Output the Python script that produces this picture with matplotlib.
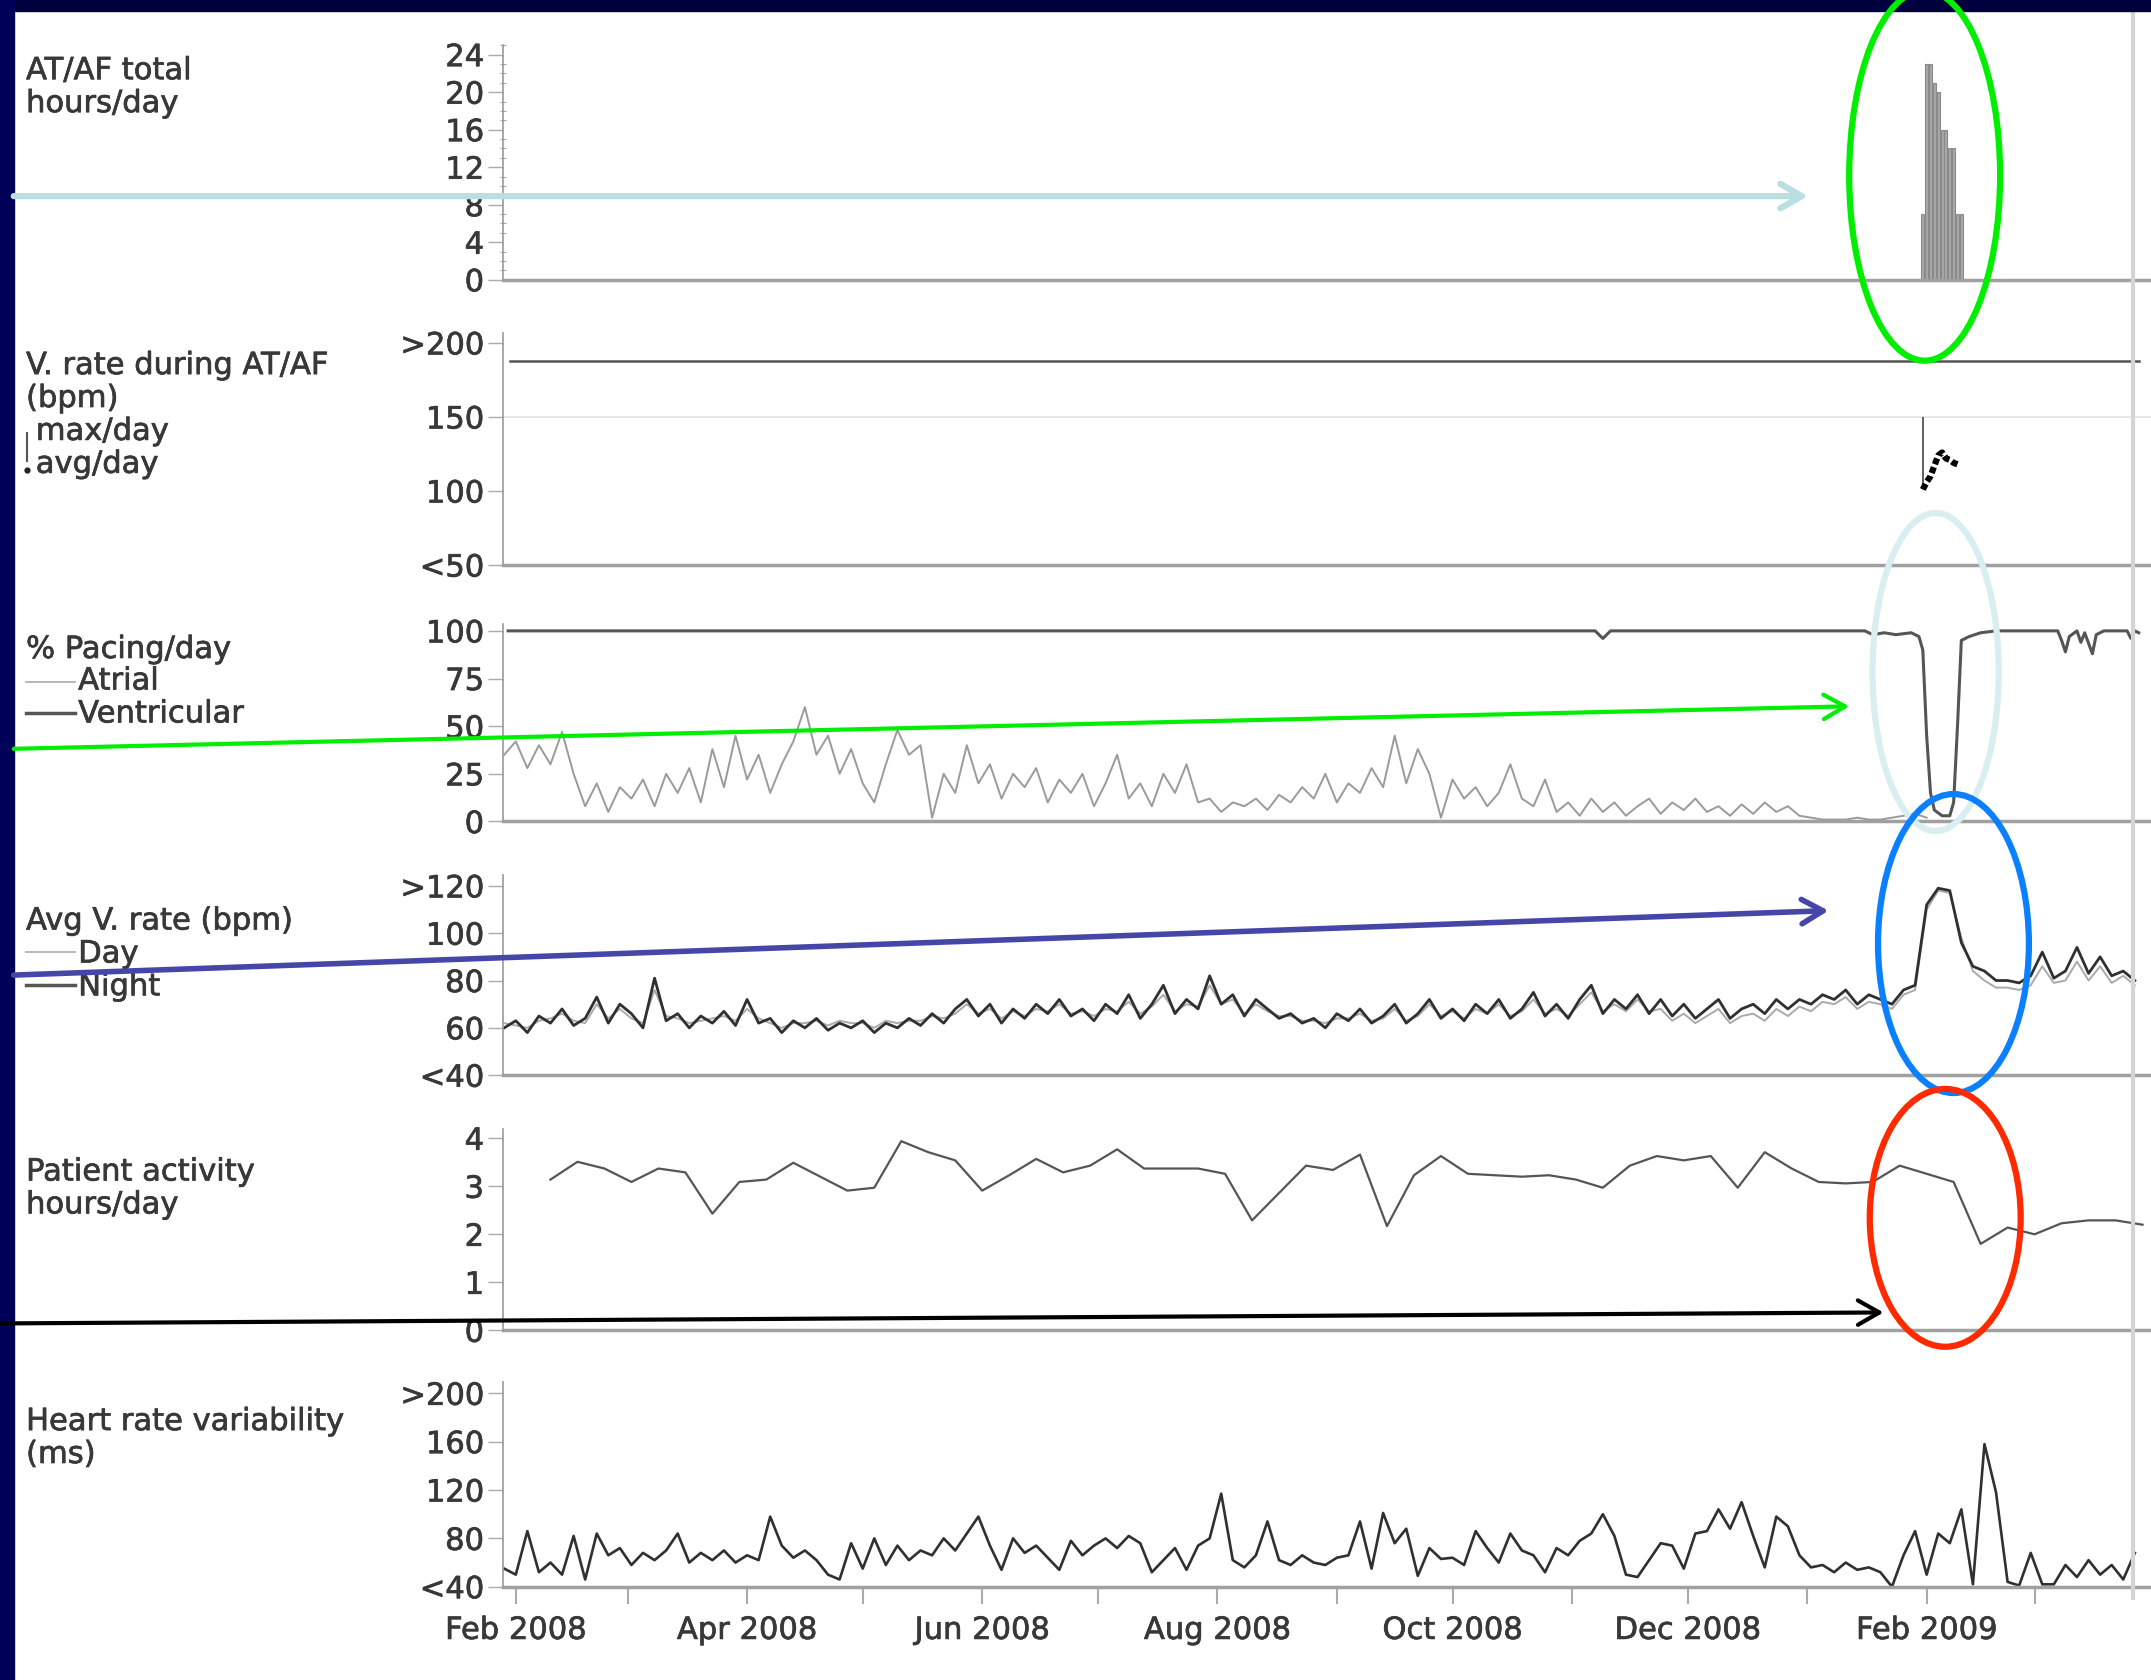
import numpy as np
import matplotlib
matplotlib.use("Agg")
import matplotlib.pyplot as plt
import matplotlib.dates as mdates
import matplotlib.patheffects as pe
from matplotlib.patches import Ellipse, Rectangle, FancyArrowPatch
from matplotlib.lines import Line2D
from matplotlib.ticker import MultipleLocator

plt.rcParams['font.family'] = ['DejaVu Sans']

# -------------------------
# Data (days counted from 1 Feb 2008)
# -------------------------
ATAF_DAYS = [365, 366, 367, 368, 369, 370, 371, 372, 373, 374, 375]
ATAF_HOURS = [7, 23, 23, 21, 20, 16, 16, 14, 14, 7, 7]

VRATE_DAYS = [365, 366, 367, 368, 369, 370, 371, 372, 373, 374]
VRATE_AVG = [101, 106, 110, 117, 124, 126, 122, 121, 119, 118]
VRATE_MAX_DAYS = [365]
VRATE_MAX = [150]
VRATE_REF = 188

ATRIAL_START, ATRIAL_STEP = -3, 3
ATRIAL_PACING = [35, 42, 28, 40, 30, 47, 25, 8, 20, 5,
                 18, 12, 22, 8, 25, 15, 28, 10, 38, 18,
                 45, 22, 35, 15, 30, 42, 60, 35, 45, 25,
                 38, 20, 10, 30, 48, 35, 40, 2, 25, 15,
                 40, 20, 30, 12, 25, 18, 28, 10, 22, 15,
                 25, 8, 20, 35, 12, 20, 8, 25, 15, 30,
                 10, 12, 5, 10, 8, 12, 6, 14, 10, 18,
                 12, 25, 10, 20, 15, 28, 18, 45, 20, 38,
                 25, 2, 22, 12, 18, 8, 15, 30, 12, 8,
                 22, 5, 10, 3, 12, 5, 10, 3, 8, 12,
                 4, 10, 6, 12, 5, 8, 3, 9, 4, 10,
                 5, 8, 3, 2, 1, 1, 1, 2, 1, 1,
                 2, 3, 4, 2]

VENT_DAYS = [-2, 280, 282, 284, 350, 352, 355, 358, 362, 364,
             365, 366, 367, 368, 370, 372, 373, 374, 375, 377,
             380, 384, 400, 401, 402, 403, 405, 406, 407, 409,
             410, 412, 418, 419, 420, 421]
VENT_PACING = [100, 100, 96, 100, 100, 98, 99, 98, 99, 97,
               90, 45, 15, 6, 3, 3, 10, 50, 95, 97,
               99, 100, 100, 95, 89, 97, 100, 94, 99, 88,
               98, 100, 100, 96, 100, 99]

RATE_START, RATE_STEP = -3, 3
RATE_NIGHT = [60, 63, 58, 65, 62, 68, 61, 64, 73, 62,
              70, 66, 60, 81, 63, 66, 60, 65, 62, 67,
              61, 72, 62, 64, 58, 63, 60, 64, 59, 62,
              60, 63, 58, 62, 60, 64, 61, 66, 62, 68,
              72, 65, 70, 62, 68, 64, 70, 66, 72, 65,
              68, 63, 70, 66, 74, 64, 70, 78, 66, 72,
              68, 82, 70, 74, 65, 72, 68, 64, 66, 62,
              64, 60, 66, 63, 68, 62, 65, 70, 62, 66,
              72, 64, 68, 63, 70, 66, 72, 64, 68, 75,
              65, 70, 64, 72, 78, 66, 72, 68, 74, 66,
              72, 65, 70, 64, 68, 72, 64, 68, 70, 66,
              72, 68, 72, 70, 74, 72, 76, 70, 74, 72,
              70, 76, 78, 112, 119, 118, 96, 86, 84, 80,
              80, 79, 82, 92, 81, 84, 94, 83, 90, 82,
              84, 80]
RATE_DAY = [62, 61, 60, 63, 64, 66, 63, 62, 70, 64,
            68, 64, 62, 76, 65, 64, 62, 63, 64, 65,
            63, 68, 64, 62, 60, 62, 62, 63, 61, 63,
            62, 62, 60, 63, 62, 63, 63, 65, 64, 66,
            70, 66, 68, 64, 67, 65, 68, 67, 70, 66,
            67, 65, 68, 67, 71, 66, 69, 74, 67, 70,
            69, 78, 70, 72, 66, 70, 67, 65, 65, 63,
            63, 62, 64, 64, 66, 63, 64, 68, 63, 65,
            70, 65, 67, 64, 68, 66, 70, 65, 67, 72,
            66, 68, 65, 70, 75, 67, 70, 67, 72, 67,
            68, 63, 66, 62, 65, 68, 62, 65, 66, 63,
            68, 65, 69, 67, 71, 70, 73, 68, 71, 70,
            68, 74, 76, 110, 118, 117, 98, 84, 80, 77,
            77, 76, 78, 86, 79, 80, 88, 80, 86, 79,
            82, 78]

ACTIVITY_START, ACTIVITY_STEP = 9, 7
ACTIVITY = [3.14, 3.51, 3.37, 3.09, 3.37, 3.29, 2.43, 3.09, 3.14, 3.49,
            3.20, 2.91, 2.97, 3.94, 3.71, 3.54, 2.91, 3.23, 3.57, 3.29,
            3.43, 3.77, 3.37, 3.37, 3.37, 3.26, 2.29, 2.86, 3.43, 3.34,
            3.66, 2.17, 3.23, 3.63, 3.26, 3.23, 3.20, 3.23, 3.14, 2.97,
            3.43, 3.63, 3.54, 3.63, 2.97, 3.71, 3.37, 3.09, 3.06, 3.09,
            3.43, 3.26, 3.09, 1.80, 2.14, 2.00, 2.23, 2.29, 2.29, 2.20]

HRV_START, HRV_STEP = -3, 3
HRV = [55, 50, 86, 52, 60, 50, 82, 46, 84, 66,
       72, 58, 68, 62, 70, 84, 60, 68, 62, 70,
       60, 66, 62, 98, 74, 64, 70, 62, 50, 46,
       76, 55, 80, 58, 74, 62, 70, 66, 80, 70,
       84, 98, 74, 54, 80, 68, 74, 64, 54, 78,
       66, 74, 80, 72, 82, 76, 52, 62, 72, 54,
       74, 80, 117, 62, 56, 66, 94, 62, 58, 66,
       60, 58, 64, 66, 94, 55, 101, 76, 88, 49,
       72, 63, 64, 58, 86, 72, 60, 84, 70, 66,
       52, 72, 66, 78, 84, 100, 82, 50, 48, 62,
       76, 74, 55, 84, 86, 104, 88, 110, 82, 56,
       98, 90, 66, 56, 58, 52, 60, 54, 56, 52,
       40, 66, 86, 50, 84, 76, 104, 42, 158, 118,
       44, 41, 68, 42, 42, 58, 48, 62, 50, 58,
       46, 68]

# -------------------------
# Layout (pixels of a 1568 x 1225 view of the slide)
# -------------------------
W, H = 1568.0, 1225.0
AX_LEFT = 367
T0 = mdates.date2num(np.datetime64('2008-02-01'))
X_MIN, X_MAX = T0 - 3.2, T0 + 424.2


def fx(x):
    return x / W


def fy(y):
    return 1 - y / H


def days(d):
    return T0 + np.asarray(d, dtype=float)


def stepped(start, step, n):
    return T0 + start + step * np.arange(n)


# panel: top px, bottom px, ylim, ticks, tick labels
PANELS = [
    (33, 204, (0, 25.0), [0, 4, 8, 12, 16, 20, 24], None),
    (243, 412, (50, 206.5), [50, 100, 150, 200], ['<50', '100', '150', '>200']),
    (455, 599, (0, 103.6), [0, 25, 50, 75, 100], None),
    (638, 784, (40, 124.6), [40, 60, 80, 100, 120], ['<40', '60', '80', '100', '>120']),
    (823, 970, (0, 4.2), [0, 1, 2, 3, 4], None),
    (1008, 1157, (40, 209), [40, 80, 120, 160, 200], ['<40', '80', '120', '160', '>200']),
]

TXT = '#383838'
FS = 22
BOLDEN = [pe.withStroke(linewidth=0.5, foreground=TXT)]

fig = plt.figure(figsize=(21.51, 16.80), dpi=100)
fig.patch.set_facecolor('white')

axes = []
for top, bot, ylim, ticks, labels in PANELS:
    ax = fig.add_axes([fx(AX_LEFT), fy(bot), 1 - fx(AX_LEFT), (bot - top) / H])
    ax.set_xlim(X_MIN, X_MAX)
    ax.set_ylim(*ylim)
    ax.set_yticks(ticks)
    ax.set_yticklabels(labels if labels else [str(t) for t in ticks])
    ax.patch.set_alpha(0)
    for s in ('top', 'right'):
        ax.spines[s].set_visible(False)
    ax.spines['left'].set_color('#999999')
    ax.spines['left'].set_linewidth(1.2)
    ax.spines['bottom'].set_color('#a0a0a0')
    ax.spines['bottom'].set_linewidth(2.5)
    ax.tick_params(axis='y', direction='out', length=11, width=1, color='#aaaaaa',
                   labelsize=FS, labelcolor=TXT, pad=3)
    ax.tick_params(axis='x', bottom=False, labelbottom=False)
    axes.append(ax)

ax1, ax2, ax3, ax4, ax5, ax6 = axes

# AT/AF hours
ax1.yaxis.set_minor_locator(MultipleLocator(1))
ax1.tick_params(axis='y', which='minor', direction='inout', length=5, width=0.8, color='#aaaaaa')
ax1.bar(days(ATAF_DAYS), ATAF_HOURS, width=0.8, color='#a8a8a8', edgecolor='#8a8a8a', linewidth=0.8)

# V rate during AT/AF
ax2.axhline(VRATE_REF, xmin=0.004, xmax=0.993, color='#555555', lw=1.8)
ax2.axhline(150, color='#e3e3e3', lw=1.2, zorder=0)
for d, m in zip(VRATE_MAX_DAYS, VRATE_MAX):
    avg = VRATE_AVG[VRATE_DAYS.index(d)]
    ax2.vlines(days([d]), avg, m, color='#444444', lw=1.2)
ax2.plot(days(VRATE_DAYS), VRATE_AVG, color='black', lw=4.5, ls=(0, (1.0, 0.5)))

# Pacing
ax3.plot(stepped(ATRIAL_START, ATRIAL_STEP, len(ATRIAL_PACING)), ATRIAL_PACING,
         color='#9a9a9a', lw=1.4)
ax3.plot(days(VENT_DAYS), VENT_PACING, color='#555555', lw=2.2)

# Avg V rate
ax4.plot(stepped(RATE_START, RATE_STEP, len(RATE_DAY)), RATE_DAY, color='#aaaaaa', lw=1.4)
ax4.plot(stepped(RATE_START, RATE_STEP, len(RATE_NIGHT)), RATE_NIGHT, color='#303030', lw=2)

# Activity
ax5.plot(stepped(ACTIVITY_START, ACTIVITY_STEP, len(ACTIVITY)), ACTIVITY, color='#555555', lw=1.6)

# HRV
ax6.plot(stepped(HRV_START, HRV_STEP, len(HRV)), HRV, color='#303030', lw=1.9)
ax6.xaxis.set_major_locator(mdates.MonthLocator(bymonth=[2, 4, 6, 8, 10, 12]))
ax6.xaxis.set_minor_locator(mdates.MonthLocator())
ax6.xaxis.set_major_formatter(mdates.DateFormatter('%b %Y'))
ax6.tick_params(axis='x', which='both', bottom=True, direction='out', length=12, width=1.5,
                color='#aaaaaa')
ax6.tick_params(axis='x', which='major', labelbottom=True, labelsize=FS, labelcolor=TXT, pad=9)

for ax in axes:
    for t in ax.get_yticklabels() + ax.get_xticklabels():
        t.set_path_effects(BOLDEN)

# -------------------------
# Left-hand titles and legend keys
# -------------------------
LABELS = [
    ("AT/AF total\nhours/day", 19, 41),
    ("V. rate during AT/AF\n(bpm)\n max/day\n avg/day", 19, 256),
    ("% Pacing/day", 19, 463),
    ("Atrial", 57, 486),
    ("Ventricular", 57, 510),
    ("Avg V. rate (bpm)", 19, 661),
    ("Day", 57, 685),
    ("Night", 57, 709),
    ("Patient activity\nhours/day", 19, 844),
    ("Heart rate variability\n(ms)", 19, 1026),
]
for s, x, y in LABELS:
    fig.text(fx(x), fy(y), s, fontsize=FS, color=TXT, va='top', ha='left',
             linespacing=1.17, path_effects=BOLDEN)

KEYS = [  # x0, x1, y, color, lw
    (19, 55, 497, '#aaaaaa', 1.2),
    (19, 55, 520, '#555555', 2.5),
    (19, 55, 694, '#aaaaaa', 1.2),
    (19, 55, 718, '#555555', 2.5),
]
for x0, x1, y, c, lw in KEYS:
    fig.add_artist(Line2D([fx(x0), fx(x1)], [fy(y), fy(y)], color=c, lw=lw,
                          transform=fig.transFigure))
fig.add_artist(Line2D([fx(20), fx(20)], [fy(316), fy(336)], color='#555555', lw=1.5,
                      transform=fig.transFigure))
fig.add_artist(Line2D([fx(20)], [fy(343)], marker='o', ms=3.5, color='#222222',
                      transform=fig.transFigure))

# right border line of the device print-out
fig.add_artist(Line2D([fx(1555), fx(1555)], [fy(8), fy(1165)], color='#d4d4d4', lw=3,
                      transform=fig.transFigure))

# -------------------------
# Slide frame and annotations
# -------------------------
fig.add_artist(Rectangle((0, fy(8)), 1, 8 / H, transform=fig.transFigure,
                         color='#00003e', zorder=5))
fig.add_artist(Rectangle((0, 0), fx(10), 1, transform=fig.transFigure,
                         color='#000058', zorder=5))

ELLIPSES = [  # cx, cy, w, h, colour
    (1403, 128, 110, 270, '#00ee00'),
    (1411, 490, 92, 232, '#d8eef0'),
    (1424, 688, 110, 218, '#0a80ff'),
    (1418, 888, 110, 188, '#ff2a00'),
]
for cx, cy, w, h, c in ELLIPSES:
    fig.add_artist(Ellipse((fx(cx), fy(cy)), w / W, h / H, transform=fig.transFigure,
                           fill=False, edgecolor=c, lw=4.5, zorder=6))

ARROWS = [  # start, end, colour, width
    ((10, 143), (1318, 143), '#b9dfe3', 4.5),
    ((10, 546), (1348, 515), '#00ee00', 3),
    ((10, 711), (1333, 664), '#4646a8', 4),
    ((0, 965), (1373, 957), '#000000', 3),
]
for (x0, y0), (x1, y1), c, lw in ARROWS:
    fig.add_artist(FancyArrowPatch((fx(x0), fy(y0)), (fx(x1), fy(y1)),
                                   transform=fig.transFigure,
                                   arrowstyle='->,head_length=0.7,head_width=0.4',
                                   mutation_scale=22, color=c, lw=lw,
                                   shrinkA=0, shrinkB=0, zorder=7,
                                   capstyle='round', joinstyle='round'))

fig.savefig('out.png', dpi=100, facecolor='white')
